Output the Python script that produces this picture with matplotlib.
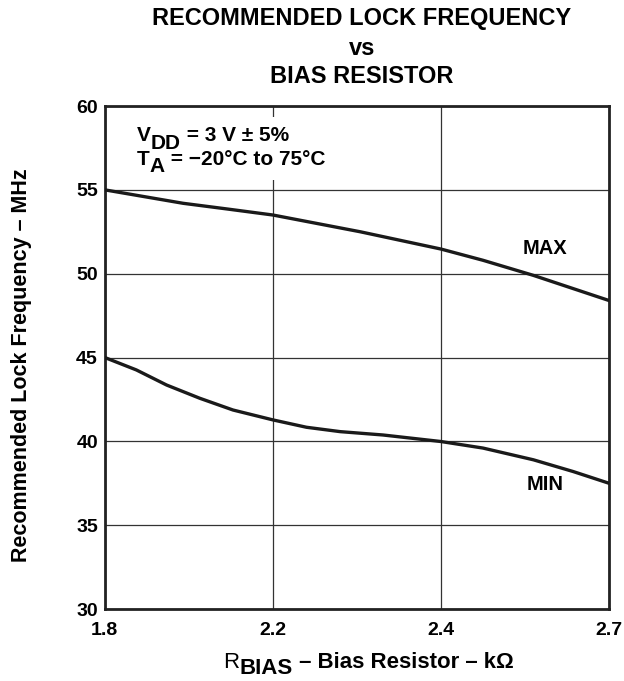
import numpy as np
import matplotlib
matplotlib.use("Agg")
import matplotlib.pyplot as plt
from matplotlib.patches import Rectangle

plt.rcParams['font.family'] = ['Liberation Sans', 'DejaVu Sans']
plt.rcParams['font.weight'] = 'bold'

# values (kOhm, MHz)
x_ticks = [1.8, 2.2, 2.4, 2.7]
tick_labels = ["1.8", "2.2", "2.4", "2.7"]
y_ticks = [30, 35, 40, 45, 50, 55, 60]

r_max = [1.8, 1.986, 2.091, 2.2, 2.304, 2.4, 2.475, 2.565, 2.7]
f_max = [55.0, 54.2, 53.86, 53.5, 52.5, 51.47, 50.8, 49.9, 48.4]

r_min = [1.8, 1.875, 1.947, 2.026, 2.105, 2.2, 2.24, 2.28, 2.331, 2.4, 2.475, 2.565, 2.636, 2.7]
f_min = [45.0, 44.26, 43.36, 42.57, 41.87, 41.28, 40.84, 40.58, 40.38, 39.99, 39.6, 38.9, 38.2, 37.5]

# x grid is evenly spaced per tick (not linear in kOhm)
pos = np.arange(len(x_ticks))
fwd = lambda v: np.interp(v, x_ticks, pos)
inv = lambda p: np.interp(p, pos, x_ticks)

fig = plt.figure(figsize=(6.24, 6.81), dpi=100)
ax = fig.add_axes([0.168, 0.1057, 0.808, 0.7386])
ax.set_xscale('function', functions=(fwd, inv))
ax.set_axisbelow(True)

ax.plot(r_max, f_max, color='#1a1a1a', lw=2.4, solid_joinstyle='round', zorder=3)
ax.plot(r_min, f_min, color='#1a1a1a', lw=2.4, solid_joinstyle='round', zorder=3)

ax.set_xlim(1.8, 2.7)
ax.set_ylim(30, 60)
ax.set_xticks(x_ticks)
ax.set_xticklabels(tick_labels)
ax.set_yticks(y_ticks)
ax.minorticks_off()
ax.tick_params(length=0, labelsize=14)
ax.tick_params(axis='x', pad=9)
ax.tick_params(axis='y', pad=5)
for lab in ax.get_xticklabels() + ax.get_yticklabels():
    lab.set_fontweight('bold')
ax.grid(True, color='#333333', lw=0.9)
for s in ax.spines.values():
    s.set_linewidth(2)
    s.set_color('#222222')

# white area behind the conditions text (breaks the 2.2 gridline)
ax.add_patch(Rectangle((0.02, 0.853), 0.36, 0.125, transform=ax.transAxes,
                       facecolor='white', edgecolor='none', zorder=1))

ax.text(2.586, 51.53, "MAX", fontsize=14.5, fontweight='bold', ha='center', va='center', zorder=4)
ax.text(2.586, 37.4, "MIN", fontsize=14.5, fontweight='bold', ha='center', va='center', zorder=4)

# conditions, subscripts kept at full size like the original
fs = 15
t = fig.text(137 / 624, 1 - 141 / 681, "V", fontsize=fs, fontweight='bold', va='baseline')
s = ax.annotate("DD", xy=(1, 0), xycoords=t, xytext=(0, -5.5), textcoords='offset points',
                fontsize=fs, fontweight='bold', va='bottom', ha='left')
ax.annotate(" = 3 V ± 5%", xy=(1, 0), xycoords=s, xytext=(0, 5.5), textcoords='offset points',
            fontsize=fs, fontweight='bold', va='bottom', ha='left')

t = fig.text(137 / 624, 1 - 165 / 681, "T", fontsize=fs, fontweight='bold', va='baseline')
s = ax.annotate("A", xy=(1, 0), xycoords=t, xytext=(0, -5), textcoords='offset points',
                fontsize=fs, fontweight='bold', va='bottom', ha='left')
ax.annotate(" = −20°C to 75°C", xy=(1, 0), xycoords=s, xytext=(0, 5), textcoords='offset points',
            fontsize=fs, fontweight='bold', va='bottom', ha='left')

# axis labels
fig.text(22 / 624, 1 - 365 / 681, "Recommended Lock Frequency – MHz", rotation=90,
         fontsize=15.5, fontweight='bold', ha='center', va='center')

fl = 16
t = fig.text(223 / 624, 1 - 668 / 681, "R", fontsize=fl, fontweight='normal', va='baseline')
s = ax.annotate("BIAS", xy=(1, 0), xycoords=t, xytext=(0.5, -4), textcoords='offset points',
                fontsize=fl, fontweight='bold', va='bottom', ha='left')
ax.annotate(" – Bias Resistor – kΩ", xy=(1, 0), xycoords=s, xytext=(0, 4), textcoords='offset points',
            fontsize=fl, fontweight='bold', va='bottom', ha='left')

# title
fig.text(0.58, 1 - 25 / 681, "RECOMMENDED LOCK FREQUENCY", ha='center', va='baseline', fontsize=17, fontweight='bold')
fig.text(0.58, 1 - 55 / 681, "vs", ha='center', va='baseline', fontsize=17, fontweight='bold')
fig.text(0.58, 1 - 83 / 681, "BIAS RESISTOR", ha='center', va='baseline', fontsize=17, fontweight='bold')

fig.savefig("out.png", dpi=100)
